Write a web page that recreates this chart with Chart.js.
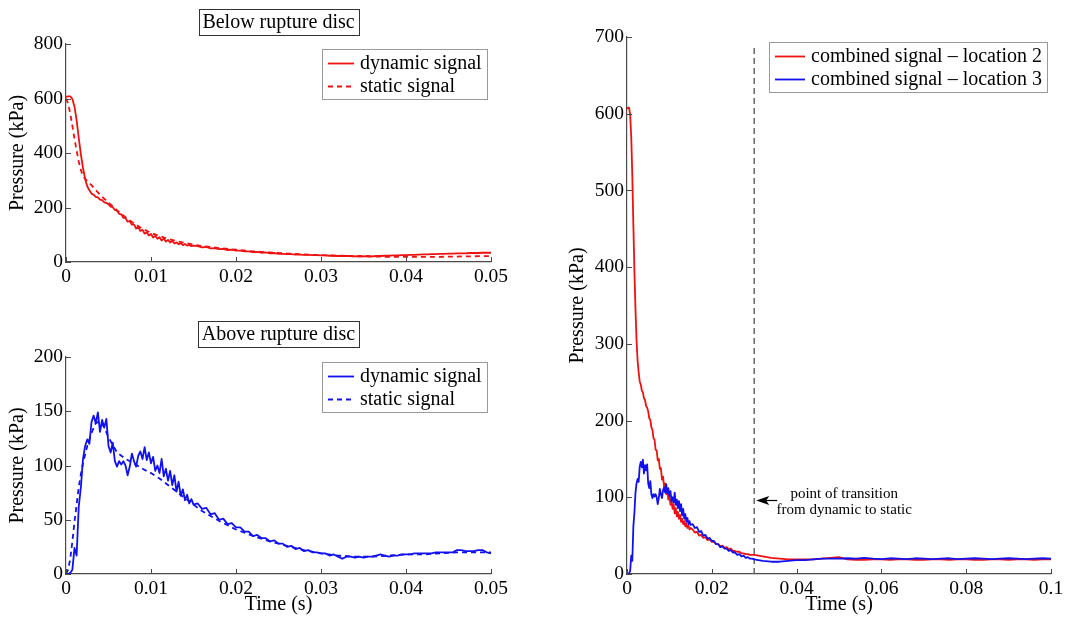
<!DOCTYPE html>
<html>
<head>
<meta charset="utf-8">
<title>Rupture disc pressure signals</title>
<script src="https://cdn.jsdelivr.net/npm/chart.js@4.4.1/dist/chart.umd.min.js"></script>
<style>
  html, body { margin: 0; padding: 0; background: #fff; }
  #wrap { position: relative; width: 1065px; height: 617px; overflow: hidden; }
  canvas { position: absolute; }
  #below { left: 0; top: 0; }
  #above { left: 0; top: 300px; }
  #combined { left: 560px; top: 0; }
</style>
</head>
<body>
<div id="wrap">
  <canvas id="below" width="520" height="300"></canvas>
  <canvas id="above" width="520" height="317"></canvas>
  <canvas id="combined" width="505" height="617"></canvas>
</div>
<script>
// sample times in ms
var tDynMs = [
  0, 0.25, 0.5, 0.75, 1, 1.25, 1.5, 1.75, 2, 2.25,
  2.5, 2.75, 3, 3.25, 3.5, 3.75, 4, 4.25, 4.5, 4.75,
  5, 5.25, 5.5, 5.75, 6, 6.25, 6.5, 6.75, 7, 7.25,
  7.5, 7.75, 8, 8.25, 8.5, 8.75, 9, 9.25, 9.5, 9.75,
  10, 10.25, 10.5, 10.75, 11, 11.25, 11.5, 11.75, 12, 12.25,
  12.5, 12.75, 13, 13.25, 13.5, 13.75, 14, 14.25, 14.5, 14.75,
  15, 15.5, 16, 16.5, 17, 17.5, 18, 18.5, 19, 19.5,
  20, 20.5, 21, 21.5, 22, 22.5, 23, 23.5, 24, 24.5,
  25, 25.5, 26, 26.5, 27, 27.5, 28, 28.5, 29, 29.5,
  30, 30.5, 31, 31.5, 32, 32.5, 33, 33.5, 34, 34.5,
  35, 35.5, 36, 36.5, 37, 37.5, 38, 38.5, 39, 39.5,
  40, 40.5, 41, 41.5, 42, 42.5, 43, 43.5, 44, 44.5,
  45, 45.5, 46, 46.5, 47, 47.5, 48, 48.5, 49, 49.5,
  50
];
var tStaMs = [0, 0.25, 0.5, 0.75, 1, 1.25, 1.5, 1.75, 2, 2.5, 3, 3.5, 4, 4.5, 5,
  6, 7, 8, 9, 10, 11, 12, 13, 14, 15, 16,
  18, 20, 22, 24, 26, 28, 30, 32, 34, 36, 38, 40, 42, 44, 46, 48, 50];
var tTailMs = [52, 54, 56, 58, 60, 62, 64, 66, 68, 70, 72, 74, 76, 78, 80,
  82, 84, 86, 88, 90, 92, 94, 96, 98, 100];

// below rupture disc (location 2), kPa
var belowDynamic = [
  606, 608, 608, 598, 570, 520, 455, 395, 345, 305,
  278, 263, 251, 247, 239, 237, 229, 227, 219, 217,
  212, 203, 201, 191, 188, 177, 175, 162, 161, 148,
  150, 137, 138, 123, 127, 114, 118, 104, 109, 97,
  103, 90, 96, 85, 91, 79, 86, 75, 81, 72,
  77, 68, 72, 65, 69, 62, 66, 60, 63, 58,
  60, 58, 54, 55, 50, 51, 47, 48, 44, 45,
  42, 42, 39, 39, 36, 37, 34, 35, 32, 33,
  30, 30, 29, 29, 27, 27, 26, 26, 25, 25,
  24, 24, 23, 23, 22, 23, 22, 22, 21, 22,
  21, 22, 21, 22, 22, 23, 23, 24, 24, 25,
  25, 26, 26, 27, 28, 28, 29, 29, 30, 30,
  31, 31, 32, 32, 32, 33, 33, 33, 34, 34,
  34
];
var belowStatic = [600, 582, 545, 500, 452, 408, 368, 338, 315, 296, 282, 264, 247, 232, 218,
  190, 164, 141, 122, 107, 95, 85, 77, 70, 64, 59,
  51, 45, 39, 35, 31, 28, 25, 23, 21, 20, 19, 19, 19, 19, 20, 21, 22];

// above rupture disc (location 3), kPa
var aboveDynamic = [
  0, 0, 1, 4, 24, 17, 62, 80, 106, 118,
  124, 120, 140, 146, 139, 149, 131, 142, 135, 143,
  118, 112, 121, 104, 99, 104, 101, 104, 100, 91,
  99, 111, 104, 99, 109, 113, 106, 117, 105, 112,
  102, 108, 95, 100, 93, 106, 90, 97, 86, 95,
  82, 91, 76, 85, 72, 78, 68, 73, 65, 69,
  64, 65, 60, 61, 55, 56, 50, 51, 46, 47,
  43, 43, 39, 39, 35, 36, 33, 33, 30, 31,
  28, 28, 25, 26, 23, 24, 21, 22, 20, 20,
  19, 19, 17, 18, 16, 14, 16, 16, 15, 16,
  15, 16, 16, 17, 18, 17, 16, 17, 17, 18,
  18, 18, 19, 19, 19, 19, 19, 20, 20, 20,
  20, 20, 22, 22, 21, 21, 21, 22, 22, 20,
  19
];
var aboveStatic = [0, 4, 14, 30, 48, 64, 80, 92, 102, 118, 130, 139, 141, 135, 126,
  112, 106, 102, 97, 93, 88, 82, 76, 70, 64, 58,
  49, 41, 35, 30, 26, 22, 19, 17, 16, 16, 17, 18, 18, 19, 20, 20, 20];

// static readings after 50 ms
var tailLocation2 = [19, 18.5, 18.5, 19, 19, 18.5, 19, 19, 18.5, 18.5, 19, 19, 18.5,
  19, 19, 18.5, 18.5, 19, 19, 18.5, 19, 19, 18.5, 19, 19];
var tailLocation3 = [20.5, 20, 21, 20, 19.5, 20.5, 20, 19.5, 20.5, 20, 19.5, 20, 20.5,
  19.5, 20, 20.5, 20, 19.5, 20, 20.5, 20, 19.5, 20, 20.5, 20];

var switchMs = 30;          // dynamic -> static hand-over
var transitionLevel = 96;   // kPa, height of the arrow

var belowYTicks = [0, 200, 400, 600, 800];
var aboveYTicks = [0, 50, 100, 150, 200];
var combinedYTicks = [0, 100, 200, 300, 400, 500, 600, 700];
var shortXTicks = [0, 0.01, 0.02, 0.03, 0.04, 0.05];
var longXTicks = [0, 0.02, 0.04, 0.06, 0.08, 0.1];

var SERIF = '"Liberation Serif", "Times New Roman", serif';
var AXIS = '#4a4a4a';
var RED = '#ee1111';
var BLUE = '#1111ee';

Chart.defaults.font.family = SERIF;
Chart.defaults.color = '#000';
Chart.defaults.animation = false;

function points(times, values) {
  return times.map(function (t, i) { return { x: t / 1000, y: values[i] }; });
}

function combined(dyn, sta, tail) {
  var out = [];
  tDynMs.forEach(function (t, i) { if (t < switchMs) out.push({ x: t / 1000, y: dyn[i] }); });
  tStaMs.forEach(function (t, i) { if (t >= switchMs) out.push({ x: t / 1000, y: sta[i] }); });
  tTailMs.forEach(function (t, i) { out.push({ x: t / 1000, y: tail[i] }); });
  return out;
}

// MATLAB style: ticks pointing into the plot
var inwardTicks = {
  id: 'inwardTicks',
  afterDatasetsDraw: function (chart) {
    var ctx = chart.ctx, a = chart.chartArea, x = chart.scales.x, y = chart.scales.y;
    ctx.save();
    ctx.strokeStyle = AXIS;
    ctx.lineWidth = 1;
    ctx.beginPath();
    x.ticks.forEach(function (t) {
      var px = Math.round(x.getPixelForValue(t.value)) + 0.5;
      ctx.moveTo(px, a.bottom); ctx.lineTo(px, a.bottom - 5);
    });
    y.ticks.forEach(function (t) {
      var py = Math.round(y.getPixelForValue(t.value)) + 0.5;
      ctx.moveTo(a.left, py); ctx.lineTo(a.left + 5, py);
    });
    ctx.stroke();
    ctx.restore();
  }
};

var boxTitle = {
  id: 'boxTitle',
  afterDraw: function (chart, args, opts) {
    if (!opts.text) return;
    var ctx = chart.ctx, a = chart.chartArea;
    ctx.save();
    ctx.font = '20px ' + SERIF;
    var w = ctx.measureText(opts.text).width;
    var cx = (a.left + a.right) / 2, cy = a.top - opts.offset;
    var bw = Math.round(w + 8), bh = 26;
    var bx = Math.round(cx - bw / 2) + 0.5, by = Math.round(cy - bh / 2) + 0.5;
    ctx.fillStyle = '#fff';
    ctx.fillRect(bx, by, bw, bh);
    ctx.strokeStyle = '#333';
    ctx.lineWidth = 1;
    ctx.strokeRect(bx, by, bw, bh);
    ctx.fillStyle = '#000';
    ctx.textAlign = 'center';
    ctx.textBaseline = 'middle';
    ctx.fillText(opts.text, cx, cy + 1);
    ctx.restore();
  }
};

var boxLegend = {
  id: 'boxLegend',
  afterDraw: function (chart, args, opts) {
    var ctx = chart.ctx, a = chart.chartArea;
    var items = chart.data.datasets.filter(function (d) { return d.label; });
    ctx.save();
    ctx.font = '20px ' + SERIF;
    var tw = Math.max.apply(null, items.map(function (d) { return ctx.measureText(d.label).width; }));
    var sample = opts.sample, padL = 6, gap = 6, padR = 5;
    var bw = Math.round(padL + sample + gap + tw + padR), bh = 50;
    var right = a.right - 4, top = a.top + 5, left = right - bw;
    ctx.fillStyle = '#fff';
    ctx.fillRect(left + 0.5, top + 0.5, bw, bh);
    ctx.strokeStyle = '#9a9a9a';
    ctx.lineWidth = 1;
    ctx.strokeRect(left + 0.5, top + 0.5, bw, bh);
    items.forEach(function (d, i) {
      var yy = top + 14 + i * 23;
      ctx.beginPath();
      ctx.setLineDash(d.borderDash || []);
      ctx.strokeStyle = d.borderColor;
      ctx.lineWidth = d.borderWidth;
      ctx.moveTo(left + padL, yy + 0.5);
      ctx.lineTo(left + padL + sample, yy + 0.5);
      ctx.stroke();
      ctx.setLineDash([]);
      ctx.fillStyle = '#000';
      ctx.textAlign = 'left';
      ctx.textBaseline = 'middle';
      ctx.fillText(d.label, left + padL + sample + gap, yy + 1);
    });
    ctx.restore();
  }
};

var transitionNote = {
  id: 'transitionNote',
  afterDatasetsDraw: function (chart, args, opts) {
    if (!opts.lines) return;
    var ctx = chart.ctx, x = chart.scales.x, y = chart.scales.y;
    var tipX = x.getPixelForValue(switchMs / 1000) + 2;
    var tipY = Math.round(y.getPixelForValue(transitionLevel)) + 0.5;
    ctx.save();
    ctx.strokeStyle = '#000';
    ctx.lineWidth = 1.2;
    ctx.beginPath();
    ctx.moveTo(tipX + 9, tipY); ctx.lineTo(tipX + 21, tipY);
    ctx.stroke();
    ctx.fillStyle = '#000';
    ctx.beginPath();
    ctx.moveTo(tipX, tipY);
    ctx.lineTo(tipX + 13, tipY - 4.5);
    ctx.lineTo(tipX + 10, tipY);
    ctx.lineTo(tipX + 13, tipY + 4.5);
    ctx.closePath();
    ctx.fill();
    ctx.font = '15px ' + SERIF;
    ctx.textAlign = 'center';
    ctx.textBaseline = 'middle';
    ctx.fillText(opts.lines[0], tipX + 88, tipY - 6);
    ctx.fillText(opts.lines[1], tipX + 88, tipY + 10);
    ctx.restore();
  }
};

function series(label, data, color, dashed, order) {
  return {
    label: label,
    data: data,
    borderColor: color,
    borderWidth: 1.8,
    borderDash: dashed ? [5, 4] : [],
    borderJoinStyle: 'round',
    pointRadius: 0,
    tension: 0,
    clip: false,
    order: order
  };
}

function panel(id, cfg) {
  new Chart(document.getElementById(id), {
    type: 'line',
    data: { datasets: cfg.datasets },
    options: {
      responsive: false,
      devicePixelRatio: 1,
      events: [],
      layout: { padding: cfg.padding },
      plugins: {
        legend: { display: false },
        tooltip: { enabled: false },
        boxTitle: { text: cfg.title, offset: cfg.titleOffset },
        boxLegend: { sample: cfg.sample },
        transitionNote: { lines: cfg.note }
      },
      scales: {
        x: {
          type: 'linear',
          min: cfg.xTicks[0],
          max: cfg.xTicks[cfg.xTicks.length - 1],
          afterBuildTicks: function (s) { s.ticks = cfg.xTicks.map(function (v) { return { value: v }; }); },
          afterFit: function (s) { s.height = cfg.xHeight; s.paddingLeft = 0; s.paddingRight = 0; },
          grid: { display: false, drawTicks: false },
          border: { display: true, color: AXIS, width: 1.2 },
          ticks: {
            autoSkip: false, maxRotation: 0, padding: 3,
            font: { size: 19.5 },
            callback: function (v) { return String(v); }
          },
          title: { display: !!cfg.xTitle, text: cfg.xTitle, font: { size: 20 }, padding: { top: 0, bottom: 0 } }
        },
        y: {
          type: 'linear',
          min: cfg.yTicks[0],
          max: cfg.yTicks[cfg.yTicks.length - 1],
          afterBuildTicks: function (s) { s.ticks = cfg.yTicks.map(function (v) { return { value: v }; }); },
          afterFit: function (s) { s.width = cfg.yWidth; s.paddingTop = 0; s.paddingBottom = 0; },
          grid: { display: false, drawTicks: false },
          border: { display: true, color: AXIS, width: 1.2 },
          ticks: {
            autoSkip: false, padding: 3,
            font: { size: 19.5 },
            callback: function (v) { return String(v); }
          },
          title: { display: true, text: 'Pressure (kPa)', font: { size: 20 }, padding: { top: 6, bottom: 0 } }
        }
      }
    },
    plugins: [inwardTicks, boxTitle, boxLegend, transitionNote]
  });
}

panel('below', {
  datasets: [
    series('dynamic signal', points(tDynMs, belowDynamic), RED, false, 0),
    series('static signal', points(tStaMs, belowStatic), RED, true, 1)
  ],
  padding: { top: 44, right: 29, left: 0, bottom: 0 },
  xTicks: shortXTicks, yTicks: belowYTicks,
  xHeight: 38, yWidth: 66,
  title: 'Below rupture disc', titleOffset: 22, sample: 26
});

panel('above', {
  datasets: [
    series('dynamic signal', points(tDynMs, aboveDynamic), BLUE, false, 0),
    series('static signal', points(tStaMs, aboveStatic), BLUE, true, 1)
  ],
  padding: { top: 57, right: 29, left: 0, bottom: 0 },
  xTicks: shortXTicks, yTicks: aboveYTicks,
  xHeight: 43, yWidth: 66, xTitle: 'Time (s)',
  title: 'Above rupture disc', titleOffset: 23, sample: 26
});

var transitionLine = {
  data: [{ x: switchMs / 1000, y: 0 }, { x: switchMs / 1000, y: 690 }],
  borderColor: '#666',
  borderWidth: 1.5,
  borderDash: [6, 4],
  pointRadius: 0,
  order: 2
};

panel('combined', {
  datasets: [
    series('combined signal \u2013 location 2', combined(belowDynamic, belowStatic, tailLocation2), RED, false, 1),
    series('combined signal \u2013 location 3', combined(aboveDynamic, aboveStatic, tailLocation3), BLUE, false, 0),
    transitionLine
  ],
  padding: { top: 37, right: 14, left: 0, bottom: 0 },
  xTicks: longXTicks, yTicks: combinedYTicks,
  xHeight: 43, yWidth: 67, xTitle: 'Time (s)',
  sample: 30,
  note: ['point of transition', 'from dynamic to static']
});
</script>
</body>
</html>
